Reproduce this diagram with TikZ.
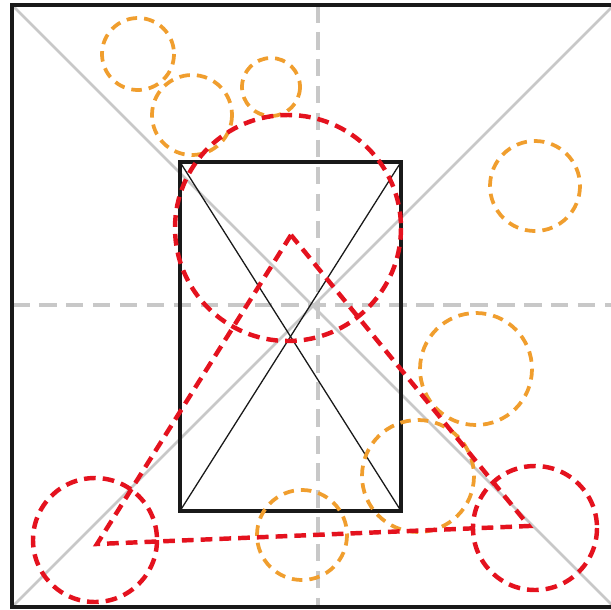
\documentclass[tikz,border=0pt]{standalone}
\usepackage{tikz}
\usetikzlibrary{calc}
\definecolor{FigRed}{RGB}{228,18,30}
\definecolor{FigOrange}{RGB}{240,158,46}
\definecolor{FigGray}{RGB}{200,200,200}
\definecolor{FigDark}{RGB}{25,25,25}
\tikzset{
  outerframe/.style={draw=FigDark, line width=3pt},
  diagline/.style={draw=FigGray, line width=2.3pt},
  axisline/.style={draw=FigGray, line width=2.8pt, dash pattern=on 15pt off 8pt},
  boxline/.style={draw=FigDark, line width=3pt},
  crossline/.style={draw=FigDark, line width=1.1pt},
  orangecirc/.style={draw=FigOrange, line width=3.2pt, dash pattern=on 9pt off 6pt},
  redcirc/.style={draw=FigRed, line width=3.8pt, dash pattern=on 10pt off 6pt},
  triline/.style={draw=FigRed, line width=3.8pt, dash pattern=on 10pt off 6pt, line join=miter}
}

\begin{document}
\begin{tikzpicture}[x=0.3mm, y=-0.3mm]
  \useasboundingbox (0,0) rectangle (611,609);
  % frame corners and guide lines
  \coordinate (tl) at (12,5);
  \coordinate (tr) at (614,5);
  \coordinate (bl) at (12,607);
  \coordinate (br) at (614,607);
  \draw[diagline] (tl) -- (br);
  \draw[diagline] (bl) -- (tr);
  \coordinate (vtop) at (318,5);
  \coordinate (vbot) at (318,607);
  \coordinate (hleft) at (12,305);
  \coordinate (hright) at (614,305);
  \draw[axisline] (vtop) -- (vbot);
  \draw[axisline] (hleft) -- (hright);
  \draw[outerframe] (tl) rectangle (br);
  % inner box
  \coordinate (boxtl) at (180,162);
  \coordinate (boxtr) at (401,162);
  \coordinate (boxbl) at (180,511);
  \coordinate (boxbr) at (401,511);
  \draw[crossline] (boxtl) -- (boxbr);
  \draw[crossline] (boxtr) -- (boxbl);
  \draw[boxline] (boxtl) rectangle (boxbr);
  % orange circles
  \foreach \cx/\cy/\r in {138/54/36, 192/115/40, 271/87/29, 535/186/45,
                          476/369/56, 418/476/56, 302/535/45}
    \draw[orangecirc] (\cx,\cy) circle (\r);
  % triangle
  \coordinate (apex) at (291,235);
  \coordinate (left) at (97,544);
  \coordinate (right) at (529,526);
  \draw[triline] (apex) -- (left) -- (right) -- cycle;
  % red circles
  \draw[redcirc] (288,228) circle (113);
  \draw[redcirc] (95,540) circle (62);
  \draw[redcirc] (535,528) circle (62);
\end{tikzpicture}
\end{document}
